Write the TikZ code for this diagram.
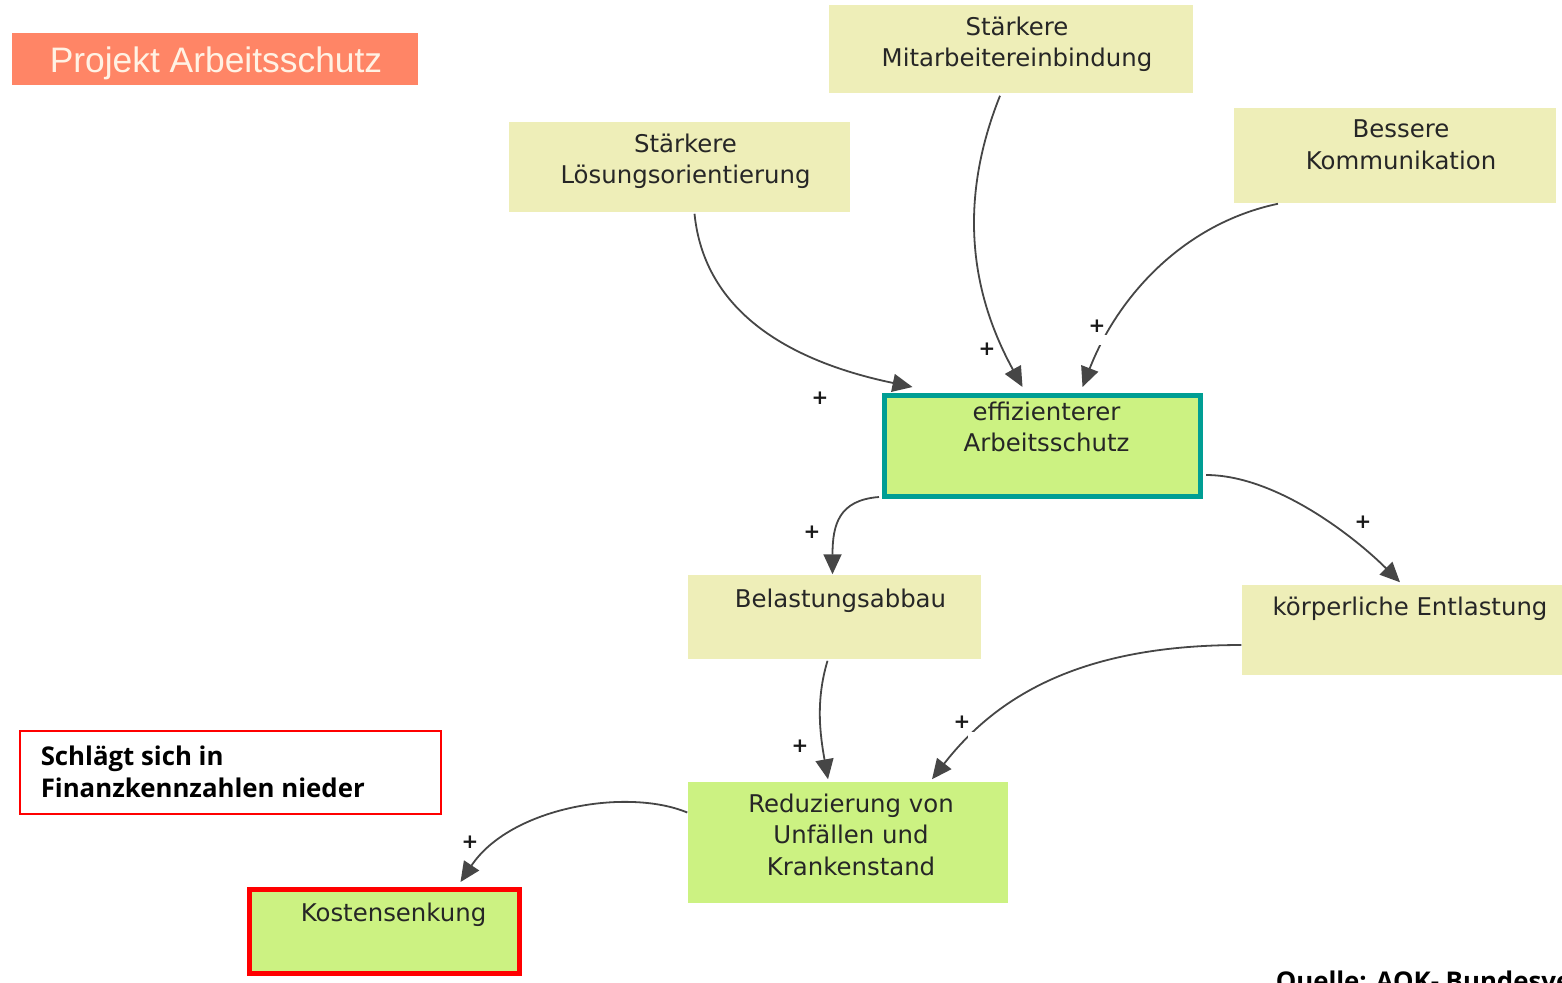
\documentclass[tikz,border=0pt]{standalone}
\usepackage{fontspec}
\setmainfont{DejaVu Sans}
\newfontfamily\titlefont{Liberation Sans}
\newfontfamily\notefont{Open Sans}
\usetikzlibrary{arrows.meta,calc}

\definecolor{factorfill}{RGB}{238,238,184}
\definecolor{goalfill}{RGB}{204,242,130}
\definecolor{edgegray}{RGB}{70,70,70}
\definecolor{tealline}{RGB}{0,158,148}
\definecolor{titlefill}{RGB}{255,133,102}
\definecolor{titleink}{RGB}{255,242,228}

\tikzset{every picture/.style={line width=0.75pt}}
\tikzset{
  factor/.style={rectangle, fill=factorfill, draw=none, inner sep=0pt},
  goal/.style={rectangle, fill=goalfill, draw=none, inner sep=0pt},
  boxtext/.style={font=\fontsize{12.2}{15.7}\selectfont, text=black!85, align=center, anchor=north, inner sep=0pt},
  link/.style={draw=edgegray, line width=0.9pt, -{Triangle[length=10pt,width=9pt]}},
  plus/.style={font=\bfseries\fontsize{10}{10}\selectfont, text=black!90, inner sep=0pt},
  gap/.style={rectangle, fill=white, inner sep=0pt, minimum size=5pt},
}

\begin{document}
\begin{tikzpicture}[x=0.5pt,y=-0.5pt]
\useasboundingbox (0,0) rectangle (1562,982);

%Title
\node [rectangle, fill=titlefill, minimum width=203pt, minimum height=26pt, inner sep=0pt] (title) at (215,59) {};
\node [font=\titlefont\fontsize{17.7}{20}\selectfont, text=titleink, inner sep=0pt] (titletext) at (216,63) {Projekt Arbeitsschutz};

%Shape: Rectangle (factors)
\node [factor, minimum width=182pt, minimum height=44pt] (mit) at (1011,49) {};
\node [boxtext] (mittext) at ($(mit.north)+(6,12)$) {Stärkere\\Mitarbeitereinbindung};

\node [factor, minimum width=170.5pt, minimum height=45pt] (loes) at (679.5,167) {};
\node [boxtext] (loestext) at ($(loes.north)+(6,12)$) {Stärkere\\Lösungsorientierung};

\node [factor, minimum width=161pt, minimum height=47.5pt] (komm) at (1395,155.5) {};
\node [boxtext] (kommtext) at ($(komm.north)+(6,12)$) {Bessere\\Kommunikation};

\node [goal, draw=tealline, line width=2.5pt, minimum width=158pt, minimum height=50.5pt] (eff) at (1042.5,446) {};
\node [boxtext] (efftext) at ($(eff.north)+(4,8)$) {effizienterer\\Arbeitsschutz};

\node [factor, minimum width=146.5pt, minimum height=42pt] (bel) at (834.5,617) {};
\node [boxtext] (beltext) at ($(bel.north)+(6,14)$) {Belastungsabbau};

\node [factor, minimum width=165pt, minimum height=45pt] (koerp) at (1407,630) {};
\node [boxtext] (koerptext) at ($(koerp.north)+(3,12)$) {körperliche Entlastung};

\node [goal, minimum width=160pt, minimum height=60.5pt] (red) at (848,842.5) {};
\node [boxtext] (redtext) at ($(red.north)+(3,12)$) {Reduzierung von\\Unfällen und\\Krankenstand};

\node [goal, draw=red, line width=2.5pt, minimum width=135pt, minimum height=42pt] (kost) at (384.5,931.5) {};
\node [boxtext] (kosttext) at ($(kost.north)+(9,15)$) {Kostensenkung};

%Note
\node [rectangle, draw=red, line width=0.9pt, fill=white, minimum width=210.5pt, minimum height=41.5pt] (note) at (230.5,772.5) {};
\node [font=\notefont\bfseries\fontsize{12.9}{16}\selectfont, align=left, anchor=north west, inner sep=0pt] (notetext) at (40,745) {Schlägt sich in\\Finanzkennzahlen nieder};

%Curve Lines
\draw [link] ($(loes.south)+(15,1)$) .. controls +(10,100) and +(-120,-25) .. ($(eff.north)+(-130,-6)$);
\draw [link] ($(mit.south)+(-11,2)$) .. controls +(-40,100) and +(-55,-100) .. ($(eff.north)+(-20,-6)$);
\draw [link] ($(komm.south)+(-117,0)$) .. controls +(-95,20) and +(35,-90) .. ($(eff.north)+(40,-6)$);
\draw [link] ($(eff.south west)+(-3,-2)$) .. controls +(-40,3) and +(0,-50) .. ($(bel.north)+(-2,0)$);
\draw [link] ($(eff.east)+(3,29)$) .. controls +(70,0) and +(-45,-45) .. ($(koerp.north)+(-7,-2)$);
\draw [link] ($(bel.south)+(-7,1)$) .. controls +(-12,40) and +(-8,-45) .. ($(red.north)+(-20,-2)$);
\draw [link] ($(koerp.west)+(0,15)$) .. controls +(-150,0) and +(70,-90) .. ($(red.north)+(84,-2)$);
\draw [link] ($(red.west)+(0,-30)$) .. controls +(-60,-25) and +(50,-75) .. ($(kost.north)+(76,-5)$);

%Gaps in lines
\node [gap] (g3) at (1104,340) {};
\node [gap] (g7) at (973,737) {};

% Text Node
\node [plus] (p1) at (820,398) {+};
\node [plus] (p2) at (987,349) {+};
\node [plus] (p3) at (1097,326) {+};
\node [plus] (p4) at (812,532) {+};
\node [plus] (p5) at (1363,522) {+};
\node [plus] (p6) at (800,746) {+};
\node [plus] (p7) at (962,722) {+};
\node [plus] (p8) at (470,842) {+};

% Text Node
\node [font=\notefont\bfseries\fontsize{12.9}{16}\selectfont, anchor=base west, inner sep=0pt] (source) at (1275,990) {Quelle: AOK- Bundesverband};

\end{tikzpicture}
\end{document}
